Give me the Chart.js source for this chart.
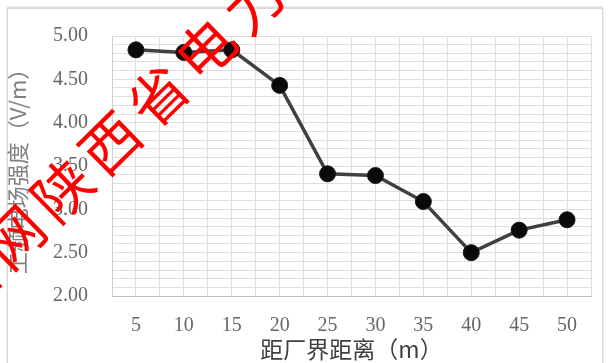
<!DOCTYPE html>
<html>
<head>
<meta charset="utf-8">
<script src="https://cdn.jsdelivr.net/npm/chart.js@4/dist/chart.umd.min.js"></script>
<style>
  html, body { margin: 0; padding: 0; background: #fff; }
  #frame {
    position: absolute; left: 7px; top: 8px; width: 596px; height: 360px;
    border: 1px solid #d9d9d9; box-shadow: 0 -1px 2px #ccc; box-sizing: border-box;
  }
  #wrap { position: absolute; left: 0; top: 0; width: 609px; height: 363px; }
</style>
</head>
<body>
<div id="frame"></div>
<div id="wrap"><canvas id="chart" width="609" height="363"></canvas></div>
<script>
// 数据
const distances = [5, 10, 15, 20, 25, 30, 35, 40, 45, 50];
const fieldStrength = [4.84, 4.81, 4.84, 4.43, 3.41, 3.39, 3.09, 2.50, 2.76, 2.88];
const yTicks = ['2.00', '2.50', '3.00', '3.50', '4.00', '4.50', '5.00'];
const yTitle = '工频电场强度（V/m）';
const xTitle = '距厂界距离（m）';
const watermark = ['国', '网', '陕', '西', '省', '电', '力', '公', '司'];

const serif = '"Liberation Serif", "DejaVu Serif", serif';
const cjk = '"Noto Sans CJK SC", "Liberation Serif", sans-serif';

// 水印
const watermarkPlugin = {
  id: 'watermark',
  afterDraw(chart) {
    const ctx = chart.ctx;
    const ang = -44.5 * Math.PI / 180;
    const step = 67;
    const cx = 110, cy = 143; // "西" 的中心
    ctx.save();
    ctx.fillStyle = '#ff0000';
    ctx.font = '58px ' + cjk;
    ctx.textAlign = 'center';
    ctx.textBaseline = 'middle';
    watermark.forEach((ch, i) => {
      const k = i - 3;
      ctx.save();
      ctx.translate(cx + k * step * Math.cos(ang), cy + k * step * Math.sin(ang));
      ctx.rotate(ang);
      ctx.fillText(ch, 0, 0);
      ctx.restore();
    });
    ctx.restore();
  }
};

new Chart(document.getElementById('chart'), {
  type: 'line',
  data: {
    datasets: [{
      data: distances.map((d, i) => ({ x: d, y: fieldStrength[i] })),
      borderColor: '#404040',
      borderWidth: 3.5,
      pointRadius: 8,
      pointBackgroundColor: '#0a0a0a',
      pointBorderColor: '#1a1a1a',
      pointBorderWidth: 1,
      tension: 0
    }]
  },
  options: {
    responsive: false,
    animation: false,
    layout: { padding: { top: 33, right: 13, bottom: 0, left: 0 } },
    plugins: {
      legend: { display: false },
      tooltip: { enabled: false }
    },
    scales: {
      x: {
        type: 'linear',
        min: 2.5,
        max: 52.5,
        afterBuildTicks: (scale) => {
          const t = [];
          for (let v = 2.5; v <= 52.5; v += 2.5) t.push({ value: v });
          scale.ticks = t;
        },
        afterFit: (scale) => { scale.height = 67; },
        grid: { color: '#dedede', lineWidth: 1, drawTicks: false },
        border: { color: '#bfbfbf' },
        ticks: {
          autoSkip: false,
          maxRotation: 0,
          padding: 18,
          color: '#666666',
          font: { family: serif, size: 20 },
          callback: (v) => distances.includes(v) ? String(v) : ''
        },
        title: {
          display: true,
          text: xTitle,
          color: '#404040',
          font: { family: cjk, size: 23 },
          padding: { top: 0, bottom: 0 }
        }
      },
      y: {
        min: 2,
        max: 5,
        afterBuildTicks: (scale) => {
          const t = [];
          for (let i = 0; i <= 30; i++) t.push({ value: 2 + i / 10 });
          scale.ticks = t;
        },
        afterFit: (scale) => { scale.width = 112; },
        grid: { color: '#dedede', lineWidth: 1, drawTicks: false },
        border: { color: '#d0d0d0' },
        ticks: {
          autoSkip: false,
          padding: 24,
          color: '#666666',
          font: { family: serif, size: 20 },
          callback: (v) => {
            const s = v.toFixed(2);
            return yTicks.includes(s) ? s : '';
          }
        },
        title: {
          display: true,
          text: yTitle,
          color: '#808080',
          font: { family: cjk, size: 22 },
          padding: { top: 4, bottom: 0 }
        }
      }
    }
  },
  plugins: [watermarkPlugin]
});
</script>
</body>
</html>
